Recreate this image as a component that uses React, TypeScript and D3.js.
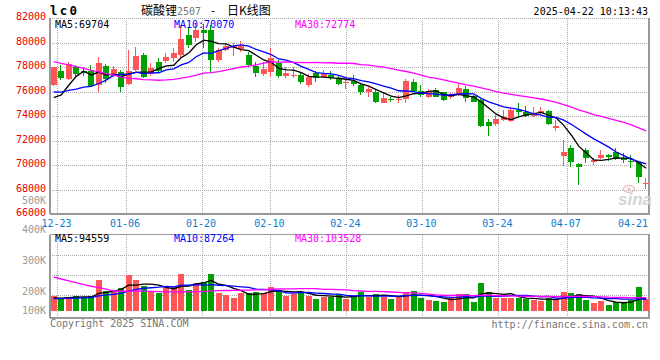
import React from 'react'
import * as d3 from 'd3'

// trading days shown on the chart
const dates = [
  '12-20', '12-23', '12-24', '12-25', '12-26', '12-27', '12-30', '12-31',
  '01-02', '01-03', '01-06', '01-07', '01-08', '01-09', '01-10', '01-13', '01-14', '01-15', '01-16', '01-17',
  '01-20', '01-21', '01-22', '01-23', '01-24', '01-27',
  '02-05', '02-06', '02-07', '02-10', '02-11', '02-12', '02-13', '02-14', '02-17', '02-18', '02-19', '02-20', '02-21',
  '02-24', '02-25', '02-26', '02-27', '02-28',
  '03-03', '03-04', '03-05', '03-06', '03-07', '03-10', '03-11', '03-12', '03-13', '03-14', '03-17', '03-18', '03-19',
  '03-20', '03-21', '03-24', '03-25', '03-26', '03-27', '03-28', '03-31',
  '04-01', '04-02', '04-03', '04-07', '04-08', '04-09', '04-10', '04-11', '04-14', '04-15', '04-16', '04-17', '04-18',
  '04-21', '04-22'
]

const opens = [
  76530, 77670, 77000, 77980, 77670, 77670, 76530, 78080, 77270, 77570,
  76610, 77750, 78980, 77430, 78430, 78510, 78710, 78980, 80610, 80340,
  81020, 81020, 78570, 79390, 79550, 79470, 78980, 78080, 77430, 77620,
  78300, 77290, 77320, 77350, 76530, 77530, 77210, 77350, 77080, 76720,
  76860, 76530, 75980, 75980, 75090, 75360, 75340, 75360, 76750, 76040,
  75580, 76120, 75930, 75530, 75710, 76180, 75630, 75310, 73530, 73350,
  73670, 73620, 74490, 74350, 74000, 74220, 74410, 73040, 70760, 71360,
  70080, 71220, 70270, 70550, 70820, 71040, 70600, 70330, 70270, 68450
]
const highs = [
  78040, 78160, 78430, 78160, 77980, 78160, 78820, 78240, 78080, 77750,
  79390, 79660, 79140, 78330, 78730, 79140, 79530, 81430, 81160, 81570,
  81510, 81430, 79550, 79880, 79960, 80120, 79220, 78430, 78410, 79550,
  78570, 78020, 78020, 77530, 77430, 77700, 77750, 77670, 77350, 77000,
  77350, 76670, 76390, 76120, 75850, 75580, 75710, 77020, 77020, 76530,
  76180, 76260, 75980, 75980, 76610, 76450, 75710, 75360, 73730, 74080,
  74490, 74630, 75040, 74820, 74760, 74760, 74490, 73670, 72040, 71630,
  70160, 71360, 70550, 71220, 70900, 71360, 70960, 70820, 70330, 68960
]
const lows = [
  76410, 76940, 76940, 77160, 77270, 76390, 75930, 76670, 77180, 75980,
  76530, 77670, 77080, 77270, 77590, 78330, 78430, 78840, 79530, 80070,
  79530, 77490, 78410, 79310, 78900, 79220, 78000, 77210, 77270, 77210,
  77080, 77080, 77080, 76610, 76390, 76800, 77160, 76940, 76530, 76180,
  76450, 75710, 75580, 75090, 75040, 75170, 75040, 75040, 75980, 75580,
  75440, 75530, 75250, 75360, 75660, 75170, 75140, 73130, 72370, 73180,
  73590, 73530, 73940, 73890, 73940, 74080, 73270, 72800, 69920, 69860,
  68370, 70190, 70000, 70470, 70350, 70410, 70190, 69730, 68510, 68020
]
const closes = [
  77980, 77130, 78240, 77430, 77490, 76470, 78300, 77020, 77810, 76390,
  77670, 78900, 77160, 77920, 77670, 78840, 79120, 80290, 79800, 81020,
  80750, 78570, 79390, 79710, 79710, 79710, 78160, 77490, 77810, 78730,
  77290, 77530, 77350, 76800, 77210, 77080, 77430, 77080, 76610, 76800,
  76610, 75980, 76200, 75170, 75490, 75310, 75360, 76860, 76070, 75710,
  76040, 75580, 75310, 75630, 76260, 75440, 75170, 73210, 73210, 73730,
  73890, 74490, 74350, 74000, 74220, 74410, 73320, 73210, 71040, 70270,
  69860, 70550, 70410, 70820, 70680, 70470, 70410, 70270, 69000, 68510
]
// closes of the 29 sessions before the first bar (needed for the averages)
const priorCloses = [
  81200, 81800, 82000, 81600, 81500, 81900, 81400, 81300, 81100, 81200,
  79600, 79200, 78800, 78400, 78100, 77600, 77300, 77000, 76700, 75700,
  77200, 76900, 76300, 75900, 75800, 76000, 74300, 73800, 75400
]

// volume, thousand lots
const volumes = [
  112, 98, 105, 112, 98, 112, 230, 150, 150, 172,
  268, 230, 185, 150, 137, 180, 180, 280, 160, 212,
  220, 278, 133, 120, 100, 133, 137, 145, 133, 182,
  158, 115, 128, 143, 115, 90, 103, 107, 128, 90,
  115, 140, 107, 128, 107, 90, 107, 140, 152, 100,
  83, 75, 70, 100, 128, 128, 70, 212, 145, 95,
  100, 100, 100, 90, 83, 75, 100, 83, 145, 137,
  128, 83, 62, 75, 45, 70, 58, 83, 182, 90
]
const priorVolumes = [
  540, 520, 510, 530, 500, 530, 520, 550,
  230, 220, 200, 240, 210, 190, 220, 200, 210, 200, 190, 210,
  95, 85, 90, 80, 85, 100, 90, 95, 90
]

const priceTicks = [66000, 68000, 70000, 72000, 74000, 76000, 78000, 80000, 82000]
const volTickLabels = ['500K', '400K', '300K', '200K', '100K']
const volTickValues = [500, 400, 300, 200, 100]
const dateTicks = ['12-23', '01-06', '01-20', '02-10', '02-24', '03-10', '03-24', '04-07', '04-21']

const maDefs = [
  { n: 5, color: '#000000', label: 'MA5:69704', volLabel: 'MA5:94559', lx: 55 },
  { n: 10, color: '#0000ff', label: 'MA10:70070', volLabel: 'MA10:87264', lx: 174 },
  { n: 30, color: '#ff00ff', label: 'MA30:72774', volLabel: 'MA30:103528', lx: 295 }
]

const RED = '#ff5555'
const GREEN = '#00a000'
const MONO = 'DejaVu Sans Mono'

const movingAvg = (prior: number[], vals: number[], n: number) => {
  const all = prior.concat(vals)
  return vals.map((_, i) => {
    const end = prior.length + i + 1
    return d3.mean(all.slice(end - n, end)) as number
  })
}

export default function App() {
  const width = 660
  const height = 360
  const left = 50
  const right = 650
  const mainTop = 18
  const mainBottom = 214
  const volTop = 234.5
  const volBottom = 318
  const volBase = 311

  const x = d3.scaleBand<string>().domain(dates).range([left, right]).paddingInner(0.2).paddingOuter(0.1)
  const bw = x.bandwidth()
  const cx = (i: number) => (x(dates[i]) as number) + bw / 2
  const y = d3.scaleLinear().domain([66000, 82000]).range([mainBottom, mainTop])
  const yVol = d3.scaleLinear().domain([0, 600]).range([volBase, volBase - 80])
  // grid / date labels sit on a slightly wider pitch than the candles
  const tickX = d3.scaleLinear().domain([0, dates.length - 1]).range([49.7, 650.1])
  const volLabelY = d3.scaleLinear().domain([100, 200, 300, 400, 500]).range([310.5, 291.3, 260.5, 229.8, 200])
  const volGrid = d3.range(1, 4).map(k => volTop + k * 20.3)

  const line = d3.line<number>().x((_, i) => cx(i)).y(v => y(v))
  const volLine = d3.line<number>().x((_, i) => cx(i)).y(v => yVol(v))

  const gridColor = '#aaaaaa'
  const axisColor = '#999999'
  const visibleTicks = dateTicks.filter(d => tickX(dates.indexOf(d)) < right - 10)

  return (
    <svg width={width} height={height} style={{ position: 'absolute', left: 0, top: 0, background: '#fff' }}>
      <rect width={width} height={height} fill="#fff" />

      {/* header */}
      <text x={50} y={15} fontFamily={MONO} fontWeight="bold" fontSize={12.5} letterSpacing={2.2}>lc0</text>
      <text x={141} y={14.5} fontFamily="Noto Sans CJK SC" fontSize={12}>碳酸锂</text>
      <text x={177} y={14.5} fontFamily={MONO} fontSize={10} fill="#777">2507</text>
      <text x={211} y={14.5} fontFamily="Noto Sans CJK SC" fontSize={12}>-</text>
      <text x={227} y={14.5} fontFamily="Noto Sans CJK SC" fontSize={12}>日K线图</text>
      <text x={648} y={15} textAnchor="end" fontFamily={MONO} fontSize={10}>2025-04-22 10:13:43</text>

      {/* grid */}
      <g stroke={gridColor} strokeDasharray="1,1" shapeRendering="crispEdges">
        {priceTicks.filter(t => t > 66000).map(t => (
          <line key={t} x1={left} x2={right} y1={Math.round(y(t)) + 0.5} y2={Math.round(y(t)) + 0.5} />
        ))}
        {visibleTicks.map(d => (
          <line key={d} x1={Math.round(tickX(dates.indexOf(d))) + 0.5} x2={Math.round(tickX(dates.indexOf(d))) + 0.5} y1={mainTop} y2={mainBottom} />
        ))}
        {volGrid.map(g => (
          <line key={g} x1={left} x2={right} y1={Math.round(g) + 0.5} y2={Math.round(g) + 0.5} />
        ))}
        {visibleTicks.map(d => (
          <line key={'v' + d} x1={Math.round(tickX(dates.indexOf(d))) + 0.5} x2={Math.round(tickX(dates.indexOf(d))) + 0.5} y1={volTop} y2={volBottom} />
        ))}
      </g>

      {/* frames */}
      <g stroke={axisColor} strokeWidth={1.5} fill="none" shapeRendering="crispEdges">
        <line x1={left} x2={left} y1={mainTop} y2={mainBottom} />
        <line x1={left} x2={right} y1={mainBottom} y2={mainBottom} />
        <line x1={right - 1} x2={right - 1} y1={mainTop} y2={mainBottom} />
        <line x1={left} x2={right} y1={volTop} y2={volTop} />
        <line x1={left} x2={left} y1={volTop} y2={volBottom} />
        <line x1={left} x2={right} y1={volBottom} y2={volBottom} />
        <line x1={right - 1} x2={right - 1} y1={volTop} y2={volBottom} />
      </g>

      {/* price labels */}
      {priceTicks.map(t => (
        <text key={t} x={46} y={y(t) - 1.5} dominantBaseline="central" textAnchor="end"
          fontFamily={MONO} fontSize={10} fill="#e60000">{t}</text>
      ))}
      {volTickValues.map((v, i) => (
        <text key={v} x={46} y={volLabelY(v)} dominantBaseline="central" textAnchor="end"
          fontFamily={MONO} fontSize={10} fill="#999">{volTickLabels[i]}</text>
      ))}

      {/* date labels */}
      {dateTicks.map(d => {
        const px = Math.min(tickX(dates.indexOf(d)) - 0.7, 648 - 15)
        return (
          <text key={d} x={px} y={223} dominantBaseline="central" textAnchor="middle"
            fontFamily={MONO} fontSize={10} fill="#0a7dd0">{d}</text>
        )
      })}

      {/* sina watermark */}
      <g opacity={0.9}>
        <ellipse cx={629} cy={189} rx={5.5} ry={3.5} fill="none" stroke="#e8b8b8" strokeWidth={1.5} />
        <circle cx={629} cy={189} r={1.5} fill="#e8b8b8" />
        <text x={652} y={205} textAnchor="end" fontFamily="Liberation Sans" fontStyle="italic" fontWeight="bold"
          fontSize={17} fill="#cfcfcf">sina</text>
      </g>

      {/* candles */}
      <g shapeRendering="crispEdges">
        {dates.map((d, i) => {
          const up = closes[i] >= opens[i]
          const color = up ? RED : GREEN
          const bx = Math.round(x(d) as number)
          const top = Math.round(y(Math.max(opens[i], closes[i])))
          const bot = Math.round(y(Math.min(opens[i], closes[i])))
          return (
            <g key={d}>
              <rect x={bx + 2} y={Math.round(y(highs[i]))} width={1} height={Math.max(1, Math.round(y(lows[i])) - Math.round(y(highs[i])))} fill={color} />
              <rect x={bx} y={top} width={6} height={Math.max(1, bot - top)} fill={color} />
            </g>
          )
        })}
      </g>

      {/* price moving averages */}
      {maDefs.map(m => (
        <path key={m.n} d={line(movingAvg(priorCloses, closes, m.n)) as string} fill="none" stroke={m.color} strokeWidth={1.3} />
      ))}
      {maDefs.map(m => (
        <text key={m.n} x={m.lx} y={27.5} fontFamily={MONO} fontSize={10} fill={m.color}>{m.label}</text>
      ))}

      {/* volume bars */}
      <g shapeRendering="crispEdges">
        {dates.map((d, i) => {
          const up = closes[i] >= opens[i]
          const top = Math.round(yVol(volumes[i]))
          return (
            <rect key={d} x={Math.round(x(d) as number)} y={top} width={6} height={volBase - top} fill={up ? RED : GREEN} />
          )
        })}
      </g>
      {maDefs.map(m => (
        <path key={m.n} d={volLine(movingAvg(priorVolumes, volumes, m.n)) as string} fill="none" stroke={m.color} strokeWidth={1.3} />
      ))}
      {maDefs.map(m => (
        <text key={m.n} x={m.lx} y={242} fontFamily={MONO} fontSize={10} fill={m.color}>{m.volLabel}</text>
      ))}

      {/* footer */}
      <text x={50} y={327} fontFamily={MONO} fontSize={10} fill="#777">Copyright 2025 SINA.COM</text>
      <text x={648} y={328} textAnchor="end" fontFamily={MONO} fontSize={10} fill="#777">http://finance.sina.com.cn</text>
    </svg>
  )
}
